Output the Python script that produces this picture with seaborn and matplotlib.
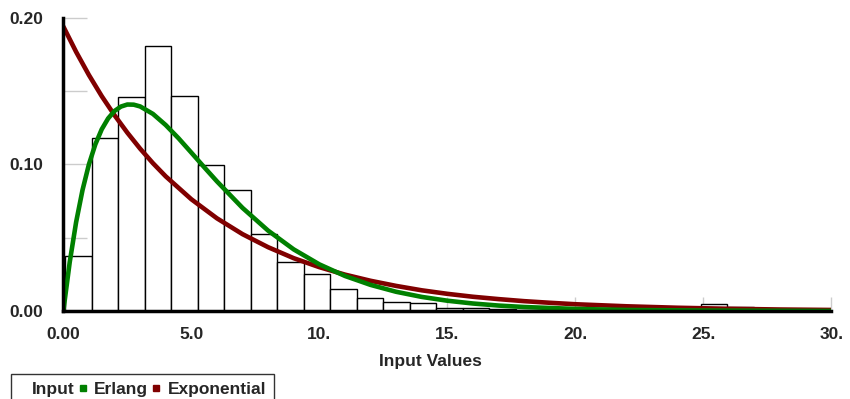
import numpy as np
import pandas as pd
import matplotlib
matplotlib.use("Agg")
import matplotlib.pyplot as plt
from matplotlib.lines import Line2D
import seaborn as sns

# ---- data ----
bin_start = 0.07
bin_end = 26.98
hist_heights = [0.0376, 0.1182, 0.1457, 0.1807, 0.1464, 0.0998, 0.0827, 0.0527,
                0.0332, 0.0250, 0.0148, 0.0091, 0.0061, 0.0053, 0.0021, 0.0021,
                0.0012, 0.0008, 0.0005, 0.0003, 0.0002, 0.0002, 0.0001, 0.0001,
                0.0046, 0.0029]

erlang_x = [0, 0.25, 0.5, 0.75, 1, 1.25, 1.5, 1.75, 2, 2.25, 2.5, 2.75, 3, 3.5,
            4, 4.5, 5, 5.5, 6, 7, 8, 9, 10, 11, 12, 13, 14, 15, 16, 17, 18, 20,
            22, 25, 30]
erlang_y = [0.0, 0.0333, 0.0606, 0.0825, 0.1000, 0.1136, 0.1239, 0.1313, 0.1364,
            0.1394, 0.1408, 0.1407, 0.1395, 0.1344, 0.1268, 0.1178, 0.1080,
            0.0981, 0.0884, 0.0703, 0.0548, 0.0420, 0.0318, 0.0239, 0.0178,
            0.0131, 0.0096, 0.0070, 0.0051, 0.0037, 0.0027, 0.0014, 0.0007,
            0.0003, 0.0]

expo_x = [0, 0.5, 1, 1.5, 2, 2.5, 3, 3.5, 4, 5, 6, 7, 8, 9, 10, 11, 12, 13, 14,
          15, 16, 17, 18, 19, 20, 22, 24, 26, 28, 30]
expo_y = [0.194, 0.1767, 0.1609, 0.1465, 0.1335, 0.1216, 0.1107, 0.1008, 0.0918,
          0.0762, 0.0632, 0.0524, 0.0435, 0.0360, 0.0299, 0.0248, 0.0206,
          0.0171, 0.0141, 0.0117, 0.0097, 0.0081, 0.0067, 0.0056, 0.0046,
          0.0032, 0.0022, 0.0015, 0.0010, 0.0007]

x_ticks = [0, 5, 10, 15, 20, 25, 30]
x_tick_labels = ["0.00", "5.0", "10.", "15.", "20.", "25.", "30."]
y_ticks = [0.0, 0.10, 0.20]
y_tick_labels = ["0.00", "0.10", "0.20"]
legend_labels = ["Input", "Erlang", "Exponential"]

# ---- style ----
sns.set_style("white")
plt.rcParams['font.family'] = ['Liberation Sans', 'DejaVu Sans']

GREEN = "#008000"
RED = "#800000"
FS = 12.5

fig = plt.figure(figsize=(8.5, 3.99), dpi=100)
ax = fig.add_axes([0.0745, 0.2206, 0.9035, 0.7350])

nbins = len(hist_heights)
width = (bin_end - bin_start) / nbins
centers = [bin_start + width * (i + 0.5) for i in range(nbins)]
hist_df = pd.DataFrame({"x": centers, "w": hist_heights})
sns.histplot(data=hist_df, x="x", weights="w", bins=nbins,
             binrange=(bin_start, bin_end), stat="count",
             color="white", edgecolor="black", linewidth=1.0, alpha=1.0, ax=ax)

sns.lineplot(x=expo_x, y=expo_y, color=RED, linewidth=3.3, ax=ax)
sns.lineplot(x=erlang_x, y=erlang_y, color=GREEN, linewidth=3.3, ax=ax)

ax.set_xlim(0, 30)
ax.set_ylim(0, 0.20)
ax.set_xticks(x_ticks)
ax.set_xticklabels(x_tick_labels, fontsize=FS, fontweight="bold")
ax.set_yticks(y_ticks)
ax.set_yticklabels(y_tick_labels, fontsize=FS, fontweight="bold")
ax.set_yticks([0.05, 0.15], minor=True)
ax.tick_params(axis="y", which="both", direction="in", length=17, width=1,
               color="#cccccc", pad=14.5, left=True)
ax.tick_params(axis="x", which="major", direction="in", length=10, width=1,
               color="#cccccc", pad=11.5, bottom=True)
ax.set_xlabel("Input Values", fontsize=FS, fontweight="bold", labelpad=7)
ax.xaxis.set_label_coords(0.478, -0.145)
ax.set_ylabel("")

for s in ["top", "right"]:
    ax.spines[s].set_visible(False)
for s in ["left", "bottom"]:
    ax.spines[s].set_color("black")
    ax.spines[s].set_linewidth(2.5)

handles = [
    Line2D([], [], marker="s", linestyle="none", markersize=4.5,
           markerfacecolor="white", markeredgecolor="white"),
    Line2D([], [], marker="s", linestyle="none", markersize=4.5,
           markerfacecolor=GREEN, markeredgecolor=GREEN),
    Line2D([], [], marker="s", linestyle="none", markersize=4.5,
           markerfacecolor=RED, markeredgecolor=RED),
]
leg = fig.legend(handles, legend_labels, loc="upper left",
                 bbox_to_anchor=(0.0135, 0.0627), ncol=3, frameon=True,
                 fancybox=False, prop={"weight": "bold", "size": FS},
                 handlelength=0.11, handletextpad=0.62, columnspacing=0.40,
                 borderpad=0.45, borderaxespad=0.0)
leg.get_frame().set_edgecolor("black")
leg.get_frame().set_linewidth(1.0)

fig.savefig("out.png", dpi=100)
